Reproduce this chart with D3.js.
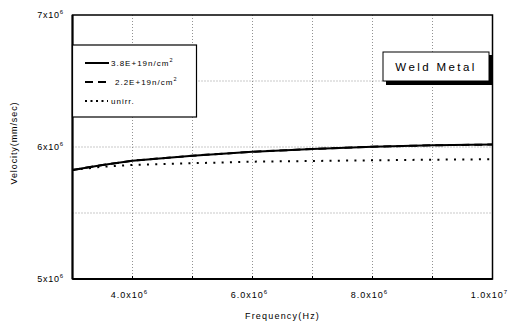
<!DOCTYPE html>
<html><head><meta charset="utf-8">
<script src="https://cdn.jsdelivr.net/npm/d3@7"></script>
<style>
html,body{margin:0;padding:0;background:#fff;}
text{font-family:"Liberation Sans",Arial,sans-serif;fill:#000;}
</style></head>
<body><svg id="c" width="512" height="323"></svg>
<script>
const freq = [3.0e6, 3.5e6, 4.0e6, 5.0e6, 6.0e6, 7.0e6, 8.0e6, 9.0e6, 1.0e7];
const vel38 = [5.826e6, 5.864e6, 5.896e6, 5.934e6, 5.964e6, 5.985e6, 6.002e6, 6.013e6, 6.019e6];
const vel22 = [5.826e6, 5.864e6, 5.896e6, 5.934e6, 5.964e6, 5.985e6, 6.002e6, 6.013e6, 6.019e6];
const velUnirr = [5.826e6, 5.851e6, 5.864e6, 5.877e6, 5.889e6, 5.894e6, 5.899e6, 5.904e6, 5.907e6];
const xTicks = [4e6, 6e6, 8e6, 1e7];
const xTickLabels = [["4.0x10","6"],["6.0x10","6"],["8.0x10","6"],["1.0x10","7"]];
const xGrid = [4e6, 5e6, 6e6, 7e6, 8e6, 9e6];
const yTicks = [5e6, 6e6, 7e6];
const yTickLabels = [["5x10","6"],["6x10","6"],["7x10","6"]];
const yGrid = [5.5e6, 6e6, 6.5e6];
const legendLabels = [["3.8E+19n/cm","2"],["2.2E+19n/cm","2"],["unirr.",""]];
const titleText = "Weld Metal";

const svg = d3.select("#c");
const L = 72.5, R = 492.5, T = 15, B = 279;
const x = d3.scaleLinear().domain([3e6, 1e7]).range([L, R]);
const y = d3.scaleLinear().domain([5e6, 7e6]).range([B, T]);

// grid
svg.append("g").selectAll("line").data(xGrid).join("line")
  .attr("x1", d => x(d)).attr("x2", d => x(d)).attr("y1", T).attr("y2", B)
  .attr("stroke", "#777").attr("stroke-width", 0.8).attr("stroke-dasharray", "1,2");
svg.append("g").selectAll("line").data(yGrid).join("line")
  .attr("y1", d => y(d)).attr("y2", d => y(d)).attr("x1", L).attr("x2", R)
  .attr("stroke", "#777").attr("stroke-width", 0.8).attr("stroke-dasharray", "1,2");

// small tick marks at bottom
svg.append("g").selectAll("line").data(xGrid).join("line")
  .attr("x1", d => x(d)).attr("x2", d => x(d)).attr("y1", B - 3).attr("y2", B)
  .attr("stroke", "#000").attr("stroke-width", 1);

const line = d3.line().x((d, i) => x(freq[i])).y(d => y(d));
svg.append("path").datum(velUnirr).attr("d", line).attr("fill", "none")
  .attr("stroke", "#000").attr("stroke-width", 2).attr("stroke-dasharray", "2,6.3");
svg.append("path").datum(vel22).attr("d", line).attr("fill", "none")
  .attr("stroke", "#000").attr("stroke-width", 2).attr("stroke-dasharray", "8,5");
svg.append("path").datum(vel38).attr("d", line).attr("fill", "none")
  .attr("stroke", "#000").attr("stroke-width", 2);

// frame
svg.append("rect").attr("x", L).attr("y", T).attr("width", R - L).attr("height", B - T)
  .attr("fill", "none").attr("stroke", "#000").attr("stroke-width", 1.5);
svg.append("line").attr("x1", L).attr("x2", L).attr("y1", T).attr("y2", B).attr("stroke", "#000").attr("stroke-width", 2);
svg.append("line").attr("x1", L).attr("x2", R).attr("y1", B).attr("y2", B).attr("stroke", "#000").attr("stroke-width", 2);

// x tick labels
const xl = svg.append("g").selectAll("text").data(xTicks).join("text")
  .attr("x", d => x(d) - 3).attr("y", 298).attr("text-anchor", "middle")
  .style("font-size", "9px").style("letter-spacing", "1px");
xl.append("tspan").text((d, i) => xTickLabels[i][0]);
xl.append("tspan").attr("dy", -4).style("font-size", "6px").text((d, i) => xTickLabels[i][1]);

// y tick labels
const yl = svg.append("g").selectAll("text").data(yTicks).join("text")
  .attr("x", 64).attr("y", d => y(d) + 3).attr("text-anchor", "end")
  .style("font-size", "9px").style("letter-spacing", "0.8px");
yl.append("tspan").text((d, i) => yTickLabels[i][0]);
yl.append("tspan").attr("dy", -4).style("font-size", "6px").text((d, i) => yTickLabels[i][1]);

// axis titles
svg.append("text").attr("x", (L + R) / 2).attr("y", 319).attr("text-anchor", "middle")
  .style("font-size", "9px").style("letter-spacing", "1.2px").text("Frequency(Hz)");
svg.append("text").attr("transform", "translate(17,143) rotate(-90)").attr("text-anchor", "middle")
  .style("font-size", "9px").style("letter-spacing", "0.9px").text("Velocity(mm/sec)");

// legend
const lg = svg.append("g");
lg.append("rect").attr("x", L).attr("y", 45).attr("width", 124).attr("height", 72)
  .attr("fill", "#fff").attr("stroke", "#000").attr("stroke-width", 1.2);
const ly = [63, 82, 101];
const dashes = [null, "8,5", "2,3.5"];
legendLabels.forEach((lab, i) => {
  lg.append("line").attr("x1", 85).attr("x2", i === 0 ? 109 : (i === 1 ? 106 : 108))
    .attr("y1", ly[i]).attr("y2", ly[i]).attr("stroke", "#000").attr("stroke-width", 2)
    .attr("stroke-dasharray", dashes[i]);
  const t = lg.append("text").attr("x", i === 1 ? 115 : 111).attr("y", ly[i] + 3)
    .style("font-size", "8px").style("letter-spacing", "1px");
  t.append("tspan").text(lab[0]);
  if (lab[1]) t.append("tspan").attr("dy", -4).style("font-size", "5.5px").text(lab[1]);
});

// title box
svg.append("rect").attr("x", 386).attr("y", 55).attr("width", 106).attr("height", 30).attr("fill", "#000");
svg.append("rect").attr("x", 383).attr("y", 52).attr("width", 106).attr("height", 29)
  .attr("fill", "#fff").attr("stroke", "#000").attr("stroke-width", 1);
svg.append("text").attr("x", 436).attr("y", 71).attr("text-anchor", "middle")
  .style("font-size", "11.5px").style("letter-spacing", "2.4px").text(titleText);
</script></body></html>
